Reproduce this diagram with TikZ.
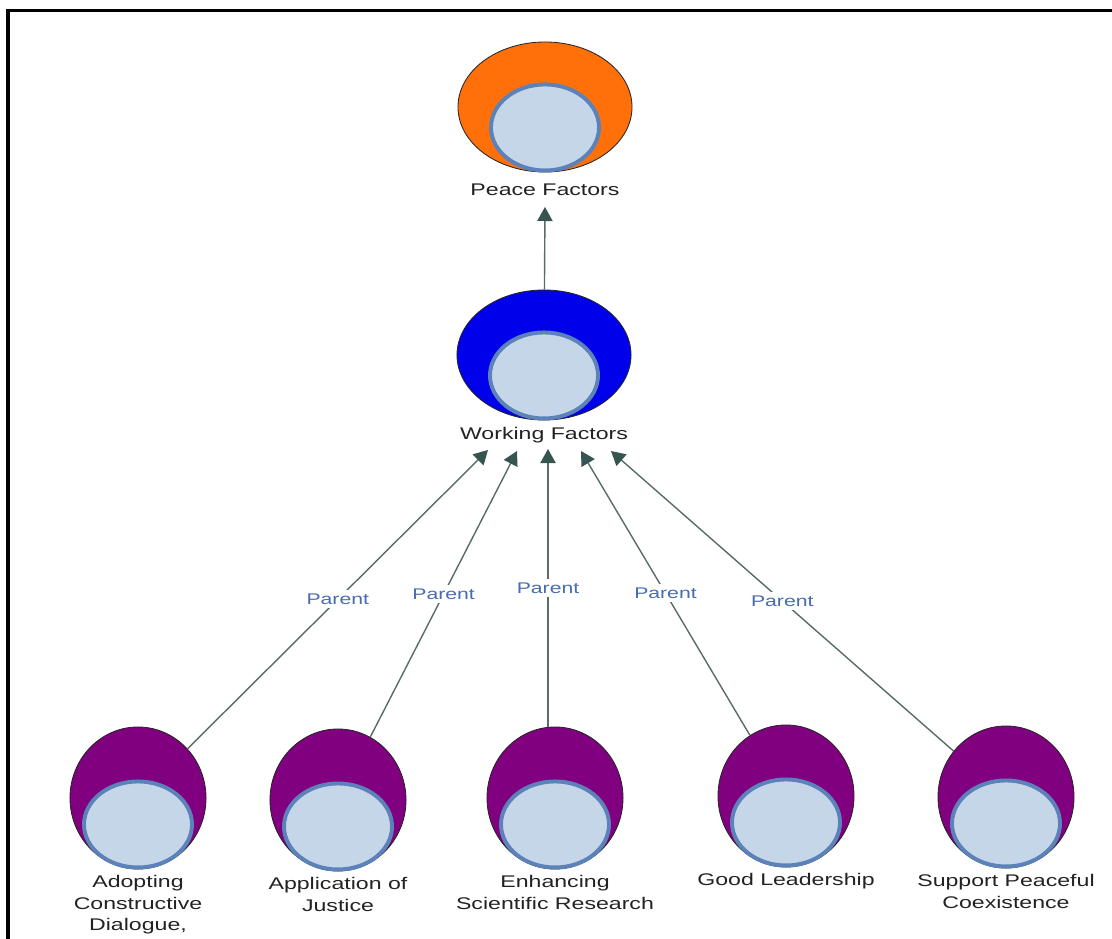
\documentclass[tikz,border=0pt]{standalone}
\usepackage{fontspec}
\setmainfont{Liberation Sans}[FakeStretch=1.37]
\usetikzlibrary{shapes.geometric,arrows.meta,positioning}

\begin{document}
\begin{tikzpicture}[x=0.025cm,y=-0.025cm,
    outerball/.style={ellipse,draw=black!85,line width=0.6pt,inner sep=0pt,
        minimum width=3.4cm,minimum height=3.55cm},
    bigball/.style={outerball,minimum width=4.35cm,minimum height=3.25cm},
    innerball/.style={ellipse,fill=innerColor,draw=rimColor,line width=2.8pt,
        inner sep=0pt,minimum width=2.7cm,minimum height=2.15cm,anchor=south},
    factorlabel/.style={align=center,inner sep=0pt,text=textColor,
        font=\fontsize{12}{15}\selectfont},
    link/.style={draw=linkColor,line width=1pt,
        -{Triangle[length=0.35cm,width=0.38cm,color=tipColor]}},
    parentlabel/.style={midway,fill=white,inner sep=2.5pt,text=parentColor,
        font=\fontsize{11}{13}\selectfont}]
    % Define colors
    \definecolor{peaceColor}{RGB}{255,112,10}
    \definecolor{workColor}{RGB}{0,0,235}
    \definecolor{factorColor}{RGB}{128,0,128}
    \definecolor{innerColor}{RGB}{198,214,233}
    \definecolor{rimColor}{RGB}{92,130,186}
    \definecolor{textColor}{RGB}{34,34,34}
    \definecolor{parentColor}{RGB}{72,108,178}
    \definecolor{linkColor}{RGB}{88,108,104}
    \definecolor{tipColor}{RGB}{55,85,80}
    % Page size and frame
    \useasboundingbox (0,0) rectangle (1112,939);
    \draw[line width=2.2pt] (8,939) -- (8,10.5) -- (1112,10.5);
    % Top level
    \node[bigball,fill=peaceColor] (pf) at (545,107) {};
    \node[innerball] (pfin) at (pf.south) {};
    \node[factorlabel,below=0.27cm of pf] (pflbl) {Peace Factors};
    % Second level
    \node[bigball,fill=workColor] (wf) at (544,355) {};
    \node[innerball] (wfin) at (wf.south) {};
    \node[factorlabel,below=0.17cm of wf] (wflbl) {Working Factors};
    % Bottom level
    \node[outerball,fill=factorColor] (n1) at (138,798) {};
    \node[outerball,fill=factorColor] (n2) at (338,800) {};
    \node[outerball,fill=factorColor] (n3) at (555,798) {};
    \node[outerball,fill=factorColor] (n4) at (786,796) {};
    \node[outerball,fill=factorColor] (n5) at (1006,797) {};
    \node[innerball] (n1in) at (n1.south) {};
    \node[innerball] (n2in) at (n2.south) {};
    \node[innerball] (n3in) at (n3.south) {};
    \node[innerball] (n4in) at (n4.south) {};
    \node[innerball] (n5in) at (n5.south) {};
    \node[factorlabel,below=0.15cm of n1] (n1lbl) {Adopting\\Constructive\\Dialogue,};
    \node[factorlabel,below=0.15cm of n2] (n2lbl) {Application of\\Justice};
    \node[factorlabel,below=0.15cm of n3] (n3lbl) {Enhancing\\Scientific Research};
    \node[factorlabel,below=0.15cm of n4] (n4lbl) {Good Leadership};
    \node[factorlabel,below=0.15cm of n5] (n5lbl) {Support Peaceful\\Coexistence};
    % Arrow ends under the labels
    \coordinate (ptip) at (545,207);
    \coordinate (t1) at (488,450);
    \coordinate (t2) at (517,451);
    \coordinate (t3) at (548,449);
    \coordinate (t4) at (581,451);
    \coordinate (t5) at (611,451);
    % Connectors
    \draw[link] (wf) -- (ptip);
    \draw[link] (n1) -- (t1) node[parentlabel] {Parent};
    \draw[link] (n2) -- (t2) node[parentlabel] {Parent};
    \draw[link] (t3 |- n3.north) -- (t3) node[parentlabel] {Parent};
    \draw[link] (n4) -- (t4) node[parentlabel] {Parent};
    \draw[link] (n5) -- (t5) node[parentlabel] {Parent};
\end{tikzpicture}
\end{document}
